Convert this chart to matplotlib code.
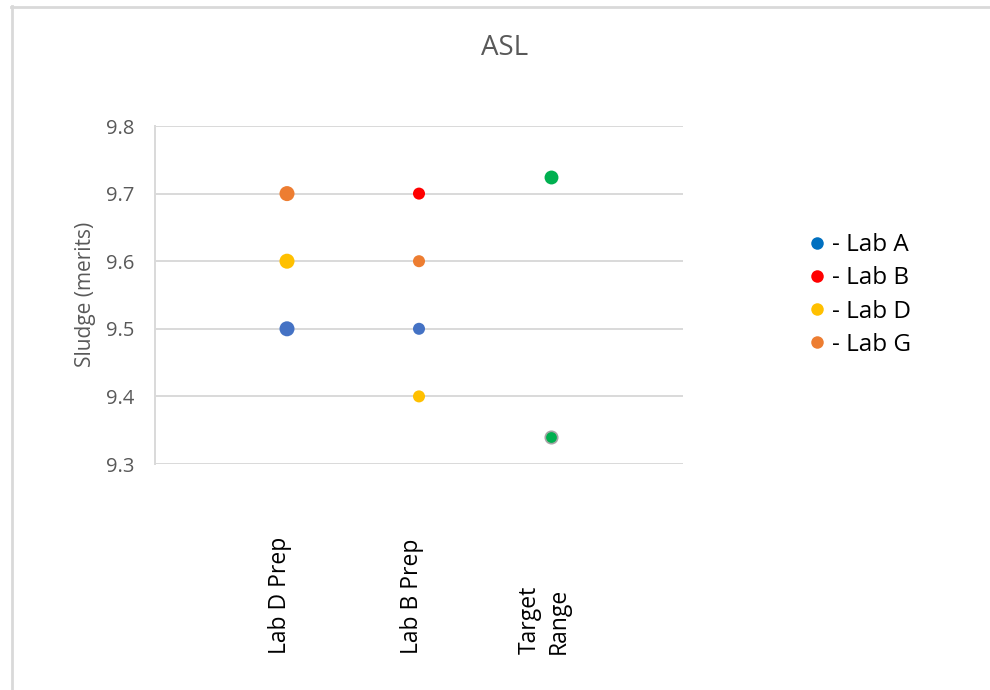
import matplotlib
matplotlib.use("Agg")
import matplotlib.pyplot as plt
import matplotlib.transforms as mtransforms
from matplotlib.lines import Line2D

plt.rcParams["font.family"] = ["Open Sans", "DejaVu Sans"]

# --- data ---------------------------------------------------------------
categories = ["Lab D Prep", "Lab B Prep", "Target\nRange"]

lab_d_prep_labs = ["Lab A", "Lab D", "Lab G"]
lab_d_prep_values = [9.5, 9.6, 9.7]

lab_b_prep_labs = ["Lab B", "Lab G", "Lab A", "Lab D"]
lab_b_prep_values = [9.7, 9.6, 9.5, 9.4]

target_range = [9.725, 9.34]

y_ticks = [9.3, 9.4, 9.5, 9.6, 9.7, 9.8]

legend_labs = ["Lab A", "Lab B", "Lab D", "Lab G"]

# --- styling ------------------------------------------------------------
point_colors = {"Lab A": "#4472C4", "Lab B": "#FF0000",
                "Lab D": "#FFC000", "Lab G": "#ED7D31"}
legend_colors = {"Lab A": "#0070C0", "Lab B": "#FF0000",
                 "Lab D": "#FFC000", "Lab G": "#ED7D31"}
target_color = "#00B050"
grid_color = "#D9D9D9"
text_grey = "#595959"

W, H = 990, 690
fig = plt.figure(figsize=(W / 100, H / 100), dpi=100)
ax = fig.add_axes([155 / W, 1 - 464 / H, 528 / W, 338 / H])

x_pos = list(range(1, len(categories) + 1))

# Lab D Prep column
ax.scatter([x_pos[0]] * len(lab_d_prep_values), lab_d_prep_values,
           c=[point_colors[l] for l in lab_d_prep_labs], s=117,
           linewidths=0, zorder=3, clip_on=False)
# Lab B Prep column
ax.scatter([x_pos[1]] * len(lab_b_prep_values), lab_b_prep_values,
           c=[point_colors[l] for l in lab_b_prep_labs], s=75,
           linewidths=0, zorder=3, clip_on=False)
# Target range end points
ax.scatter([x_pos[2]], [target_range[0]], c=target_color, s=100,
           linewidths=0, zorder=3, clip_on=False)
ax.scatter([x_pos[2]], [target_range[1]], c=target_color, s=80,
           edgecolors="#A6A6A6", linewidths=1.2, zorder=3, clip_on=False)

ax.set_xlim(0, len(categories) + 1)
ax.set_ylim(y_ticks[0], y_ticks[-1])
ax.set_yticks(y_ticks)
ax.set_yticklabels([f"{v:.1f}" for v in y_ticks])
ax.set_xticks([])
ax.tick_params(axis="y", length=0, pad=15, labelsize=14.5, labelcolor=text_grey)
ax.yaxis.grid(True, color=grid_color, linewidth=1.4)
ax.set_axisbelow(True)
for side in ("top", "right", "bottom"):
    ax.spines[side].set_visible(False)
ax.spines["left"].set_color(grid_color)
ax.spines["left"].set_linewidth(1.4)

# Rotated category labels below the plot
shift = mtransforms.ScaledTranslation(-7 / 100, 0, fig.dpi_scale_trans)
for xp, name in zip(x_pos, categories):
    ax.text(xp, -(654 - 464) / 338, name, rotation=90, ha="center",
            va="bottom", multialignment="left", fontsize=16.5,
            linespacing=1.3, color="#000000",
            transform=ax.get_xaxis_transform() + shift)

fig.text(85 / W, 1 - 294 / H, "Sludge (merits)", rotation=90, ha="center",
         va="center", fontsize=15, color=text_grey)
fig.text(505 / W, 1 - 48 / H, "ASL", ha="center", va="center",
         fontsize=20, color=text_grey)

handles = [Line2D([], [], linestyle="none", marker="o", markersize=9,
                  markerfacecolor=legend_colors[l], markeredgewidth=0)
           for l in legend_labs]
fig.legend(handles, [f"- {l}" for l in legend_labs], loc="center left",
           bbox_to_anchor=(808 / W, 1 - 295 / H), frameon=False,
           fontsize=17.5, handlelength=0.7, handletextpad=0.3,
           labelspacing=0.38, borderpad=0, borderaxespad=0)

# Chart frame edges
fig.add_artist(Line2D([11 / W, 1], [1 - 7 / H, 1 - 7 / H],
                      transform=fig.transFigure, color=grid_color, lw=2))
fig.add_artist(Line2D([12 / W, 12 / W], [0, 1 - 6 / H],
                      transform=fig.transFigure, color=grid_color, lw=2))

fig.savefig("out.png", dpi=100, facecolor="white")
